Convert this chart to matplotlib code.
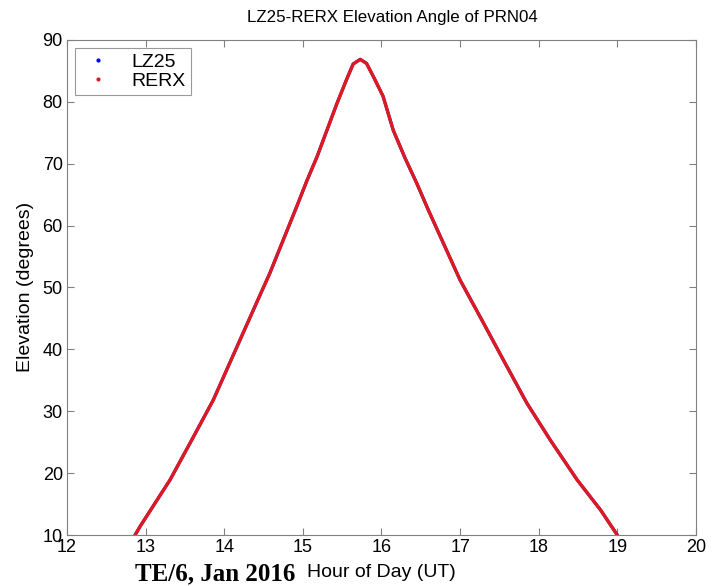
import matplotlib
matplotlib.use("Agg")
from matplotlib import pyplot as plt

# --- elevation track (hour UT, degrees)
hours = [12.866, 12.93, 13.31, 13.58, 13.86, 14.20, 14.40, 14.58, 14.92, 15.05,
         15.18, 15.43, 15.55, 15.64, 15.73, 15.81, 15.90, 16.02, 16.15, 16.30,
         16.45, 16.60, 16.75, 17.00, 17.30, 17.55, 17.85, 18.15, 18.49, 18.79,
         19.00]
elev = [10.0, 11.4, 18.9, 25.2, 31.8, 41.5, 47.2, 52.3, 63.0, 67.2,
        71.1, 79.6, 83.4, 86.1, 86.85, 86.2, 84.0, 80.9, 75.4, 70.9,
        66.8, 62.4, 58.2, 51.2, 44.2, 38.3, 31.3, 25.3, 18.9, 14.0,
        10.0]
xticks = [12, 13, 14, 15, 16, 17, 18, 19, 20]
yticks = [10, 20, 30, 40, 50, 60, 70, 80, 90]

plt.rcParams['font.family'] = ['Liberation Sans', 'DejaVu Sans']

fig = plt.figure(figsize=(7.13, 5.86), dpi=100)
ax = fig.add_axes([0.094, 0.087, 0.882, 0.845])

ax.plot(hours, elev, color='blue', lw=2.2, label='LZ25')
ax.plot(hours, elev, color='#dc1a20', lw=2.4, label='RERX',
        solid_joinstyle='round')

ax.set_xlim(12, 20)
ax.set_ylim(10, 90)
ax.set_xticks(xticks)
ax.set_yticks(yticks)
ax.tick_params(direction='in', top=True, right=True, length=5, color='#808080',
               labelsize=13)
ax.tick_params(axis='x', pad=3)
ax.tick_params(axis='y', pad=3)
for s in ax.spines.values():
    s.set_color('#808080')

ax.set_title('LZ25-RERX Elevation Angle of PRN04', fontsize=12.2, pad=13,
             x=0.517)
ax.set_xlabel('Hour of Day (UT)', fontsize=14)
ax.xaxis.set_label_coords(0.5, -0.058)
ax.set_ylabel('Elevation (degrees)', fontsize=14)
ax.yaxis.set_label_coords(-0.052, 0.5)

# legend: small dot markers like the original
h1, = ax.plot([], [], ls='none', marker='.', ms=4, color='blue')
h2, = ax.plot([], [], ls='none', marker='.', ms=4, color='#dc1a20')
leg = ax.legend([h1, h2], ['LZ25', 'RERX'], loc='upper left', fontsize=14,
                frameon=True, fancybox=False, borderaxespad=0.4,
                handlelength=1.8, handletextpad=0.8, borderpad=0.3,
                labelspacing=0.05)
leg.get_frame().set_edgecolor('#808080')
leg.get_frame().set_linewidth(0.8)

# slide footer along the bottom edge
fig.text(295 / 713, 1 / 586, 'TE/6, Jan 2016', ha='right', va='bottom',
         fontsize=18, fontweight='bold', family='Liberation Serif')

fig.savefig('out.png', dpi=100)
